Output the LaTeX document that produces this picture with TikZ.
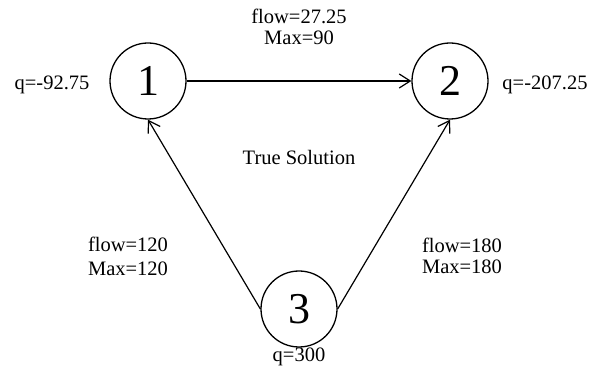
\documentclass[tikz,border=0pt]{standalone}
\usepackage{fontspec}
\setmainfont{Liberation Serif}
\usetikzlibrary{arrows.meta}
\begin{document}
\begin{tikzpicture}[x=1pt,y=-1pt,
  vert/.style={circle,draw,line width=1.3pt,minimum size=76pt,inner sep=0pt,font=\fontsize{44}{44}\selectfont},
  lbl/.style={font=\fontsize{20.5}{24}\selectfont,inner sep=0pt,align=center},
  edge/.style={line width=1.2pt,-{Straight Barb[length=11pt,width=14pt,line width=1.2pt]}}]
\useasboundingbox (0,0) rectangle (603,371);
\node[vert] (n1) at (148,81) {1};
\node[vert] (n2) at (450,81) {2};
\node[vert] (n3) at (299,309) {3};
\draw[edge] (n1.east) -- (n2.west);
\draw[edge] (n3.west) -- (n1.south);
\draw[edge] (n3.east) -- (n2.south);
\node[lbl] (q1) at (52,85) {q=-92.75};
\node[lbl] (q2) at (545,85) {q=-207.25};
\node[lbl] (q3) at (299,357) {q=300};
\node[lbl] (f12) at (299,16) {flow=27.25};
\node[lbl] (m12) at (299,38) {Max=90};
\node[lbl] (ts) at (299,157) {True Solution};
\node[lbl] (f31) at (128,244) {flow=120};
\node[lbl] (m31) at (128,269) {Max=120};
\node[lbl] (f32) at (462,245) {flow=180};
\node[lbl] (m32) at (462,267) {Max=180};
\end{tikzpicture}
\end{document}
